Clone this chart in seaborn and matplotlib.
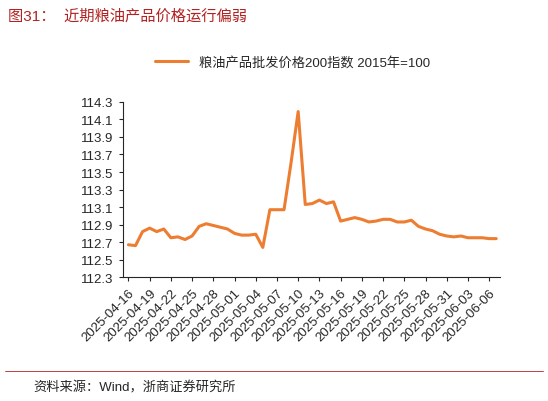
import numpy as np
import pandas as pd
import matplotlib
matplotlib.use('Agg')
import matplotlib.pyplot as plt
import seaborn as sns

sns.set_style('ticks')
plt.rcParams['font.family'] = ['Liberation Sans', 'Noto Sans CJK SC', 'DejaVu Sans']

dates = pd.date_range('2025-04-16', '2025-06-07', freq='D')
values = [112.67, 112.66, 112.82, 112.86, 112.82, 112.85, 112.75, 112.76, 112.73, 112.77,
          112.88, 112.91, 112.89, 112.87, 112.85, 112.80, 112.78, 112.78, 112.79, 112.64,
          113.07, 113.07, 113.07, 113.61, 114.19, 113.13, 113.14, 113.18, 113.14, 113.16,
          112.94, 112.96, 112.98, 112.96, 112.93, 112.94, 112.96, 112.96, 112.93, 112.93,
          112.95, 112.88, 112.85, 112.83, 112.79, 112.77, 112.76, 112.77, 112.75, 112.75,
          112.75, 112.74, 112.74]
series_name = '粮油产品批发价格200指数 2015年=100'
yticks = np.round(np.arange(112.3, 114.31, 0.2), 1)

df = pd.DataFrame({'idx': np.arange(len(values)), 'value': values})

fig = plt.figure(figsize=(5.48, 4.02), dpi=100)
ax = fig.add_axes([0.224, 0.308, 0.688, 0.436])
sns.lineplot(data=df, x='idx', y='value', ax=ax, color='#ED7D31', linewidth=2.2, label=series_name)

ax.set_ylim(112.3, 114.3)
ax.set_yticks(yticks)
ax.set_yticklabels(['%.1f' % v for v in yticks], fontsize=9.5)
tick_idx = np.arange(0, len(values), 3)
ax.set_xticks(tick_idx)
ax.set_xticklabels([dates[i].strftime('%Y-%m-%d') for i in tick_idx], rotation=45,
                   ha='right', rotation_mode='anchor', fontsize=9.5)
ax.set_xlim(-0.8, len(values) - 0.5)
ax.set_xlabel('')
ax.set_ylabel('')
for s in ['top', 'right']:
    ax.spines[s].set_visible(False)
ax.tick_params(length=3)

ax.legend(loc='lower center', bbox_to_anchor=(0.45, 1.12), frameon=False, fontsize=9.5,
          handlelength=2.5)

fig.text(0.015, 0.96, '图31：  近期粮油产品价格运行偏弱', fontsize=11, color='#B22222',
         va='center')
fig.add_artist(plt.Line2D([0.01, 0.99], [0.075, 0.075], color='#B22222', linewidth=0.6))
fig.text(0.06, 0.035, '资料来源：Wind，浙商证券研究所', fontsize=9.5, va='center')

fig.savefig('out.png', dpi=100)
